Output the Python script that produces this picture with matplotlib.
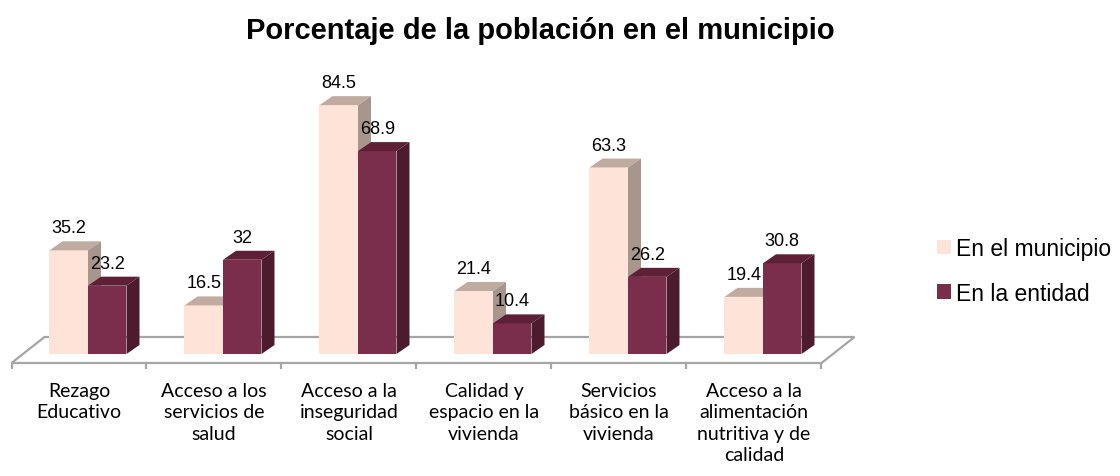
import matplotlib
matplotlib.use("Agg")
import matplotlib.pyplot as plt
from matplotlib.patches import Polygon

# ---------------- data ----------------
categories = [
    "Rezago\nEducativo",
    "Acceso a los\nservicios de\nsalud",
    "Acceso a la\ninseguridad\nsocial",
    "Calidad y\nespacio en la\nvivienda",
    "Servicios\nbásico en la\nvivienda",
    "Acceso a la\nalimentación\nnutritiva y de\ncalidad",
]
municipio = [35.2, 16.5, 84.5, 21.4, 63.3, 19.4]
entidad = [23.2, 32, 68.9, 10.4, 26.2, 30.8]
series_names = ["En el municipio", "En la entidad"]
title = "Porcentaje de la población en el municipio"

# ---------------- styling / geometry ----------------
W, H = 1120, 477
PX = 135.0      # pixels per category
PY = 2.945      # pixels per percentage unit
X0 = 88.0       # pixel x of first pair centre
Y0 = 355.0      # pixel y (from top) of bar base

c_m = ("#FEE4D8", "#C0ABA1", "#A8968D")   # front, top, side
c_e = ("#7B2E4C", "#5D2037", "#4C1B2E")
floor_col = "#A6A6A6"

bw = 38.5 / PX            # bar width (data units)
bdx, bdy = 13 / PX, 9 / PY  # bar depth offsets
fdx, fdy = 33 / PX, 26 / PY  # floor depth offsets
f_front_y = -9 / PY
f_shift = -9 / PX         # floor front centre relative to pair centre

plt.rcParams["font.family"] = ["Liberation Sans", "DejaVu Sans"]

fig = plt.figure(figsize=(W / 100, H / 100), dpi=100)
ax = fig.add_axes([0, 0, 1, 1])
ax.set_xlim(-X0 / PX, (W - X0) / PX)
ax.set_ylim((Y0 - H) / PY, Y0 / PY)
ax.axis("off")

n = len(categories)
xs = list(range(n))

# floor
fl = -0.5 + f_shift
fr = n - 0.5 + f_shift
floor = Polygon([(fl, f_front_y), (fr, f_front_y), (fr + fdx, f_front_y + fdy),
                 (fl + fdx, f_front_y + fdy)], closed=True, facecolor="white",
                edgecolor=floor_col, linewidth=1.6, zorder=1)
ax.add_patch(floor)
# tick marks
for k in range(n + 1):
    xt = fl + k
    ax.plot([xt, xt], [f_front_y, f_front_y - 6 / PY], color=floor_col,
            linewidth=1.6, zorder=1, solid_capstyle="butt")


def draw_3d(xleft, vals, cols, z, label):
    bars = ax.bar(xleft, vals, width=bw, align="edge", color=cols[0],
                  linewidth=0, zorder=z, label=label)
    for xl, v in zip(xleft, vals):
        top = Polygon([(xl, v), (xl + bw, v), (xl + bw + bdx, v + bdy),
                       (xl + bdx, v + bdy)], closed=True, facecolor=cols[1],
                      edgecolor="none", zorder=z + 0.1)
        side = Polygon([(xl + bw, 0), (xl + bw, v), (xl + bw + bdx, v + bdy),
                        (xl + bw + bdx, bdy)], closed=True, facecolor=cols[2],
                       edgecolor="none", zorder=z + 0.1)
        ax.add_patch(top)
        ax.add_patch(side)
        ax.text(xl + bw / 2, v + bdy + 5 / PY, f"{v:g}", ha="center",
                va="bottom", fontsize=13, color="black", zorder=10)
    return bars


bm = draw_3d([x - bw for x in xs], municipio, c_m, 2, series_names[0])
be = draw_3d([x for x in xs], entidad, c_e, 3, series_names[1])

# category labels
for x, lab in zip(xs, categories):
    ax.text(x + f_shift, (Y0 - 383) / PY, lab, ha="center", va="top",
            fontsize=14, family=["Lato", "DejaVu Sans"], linespacing=1.32)

# title
fig.text(540 / W, 1 - 31 / H, title, ha="center", va="center",
         fontsize=21, fontweight="bold")

# legend
leg = ax.legend(handles=[bm, be], loc="center left",
                bbox_to_anchor=(937 / W, 1 - 272 / H),
                bbox_transform=fig.transFigure, frameon=False,
                handlelength=0.62, handleheight=0.62, handletextpad=0.2,
                labelspacing=0.95, fontsize=16.5, borderpad=0, borderaxespad=0)

fig.savefig("out.png", dpi=100, facecolor="white")
